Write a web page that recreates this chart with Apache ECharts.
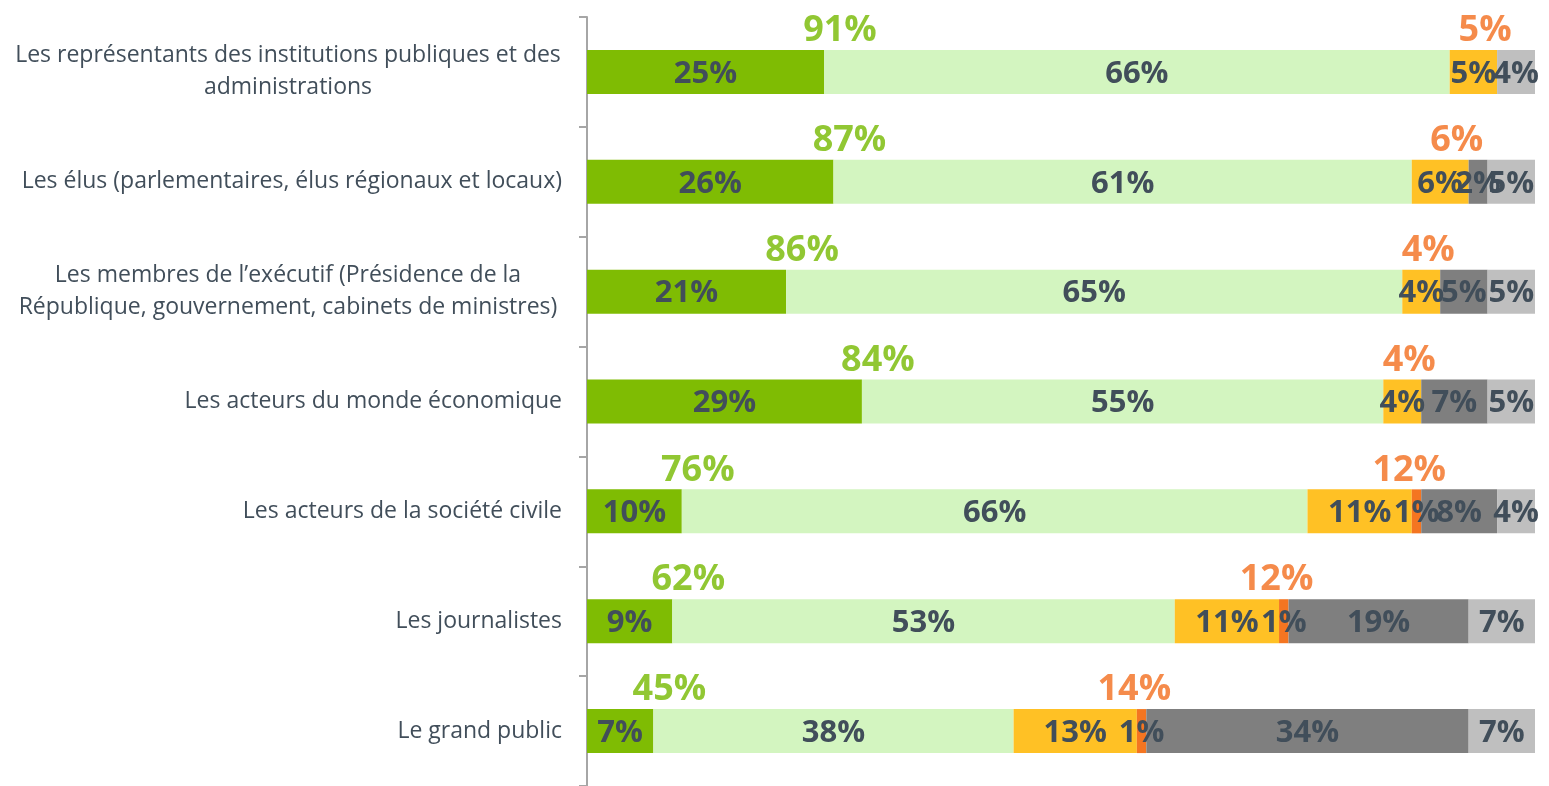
<!DOCTYPE html>
<html>
<head>
<meta charset="utf-8">
<script src="https://cdn.jsdelivr.net/npm/echarts@6/dist/echarts.min.js"></script>
<style>
  html, body { margin: 0; padding: 0; background: #fff; }
  #chart { width: 1549px; height: 786px; }
</style>
</head>
<body>
<div id="chart"></div>
<script>
// categories, top to bottom
var categories = [
  "Les représentants des institutions publiques et des\nadministrations",
  "Les élus (parlementaires, élus régionaux et locaux)",
  "Les membres de l\u2019exécutif (Présidence de la\nRépublique, gouvernement, cabinets de ministres)",
  "Les acteurs du monde économique",
  "Les acteurs de la société civile",
  "Les journalistes",
  "Le grand public"
];

// segment values (%)
var tresBonne = [25, 26, 21, 29, 10, 9, 7];
var plutotBonne = [66, 61, 65, 55, 66, 53, 38];
var plutotMauvaise = [5, 6, 4, 4, 11, 11, 13];
var tresMauvaise = [0, 0, 0, 0, 1, 1, 1];
var nspp = [0, 2, 5, 7, 8, 19, 34];
var nsp = [4, 5, 5, 5, 4, 7, 7];

// totals shown above the bars
var totalBonne = [91, 87, 86, 84, 76, 62, 45];
var totalMauvaise = [5, 6, 4, 4, 12, 12, 14];

var labelColor = "#414e5a";
var font = "'Open Sans', 'DejaVu Sans', sans-serif";

function barSerie(name, data, color) {
  return {
    name: name,
    type: "bar",
    stack: "total",
    barWidth: 44,
    data: data,
    itemStyle: { color: color },
    label: {
      show: true,
      position: "inside",
      offset: [0, 2],
      color: labelColor,
      fontFamily: font,
      fontWeight: "bold",
      fontSize: 31,
      formatter: function (p) {
        return p.value > 0 ? p.value + "%" : "";
      }
    }
  };
}

var myChart = echarts.init(document.getElementById("chart"));

var option = {
  animation: false,
  grid: {
    left: 587,
    right: 14,
    top: 17,
    bottom: 0
  },
  xAxis: {
    type: "value",
    min: 0,
    max: 100,
    show: false
  },
  yAxis: {
    type: "category",
    inverse: true,
    data: categories,
    axisLine: {
      lineStyle: { color: "#a6a6a6", width: 2 }
    },
    axisTick: {
      show: true,
      length: 8,
      lineStyle: { color: "#a6a6a6", width: 2 }
    },
    axisLabel: {
      margin: 25,
      color: labelColor,
      fontFamily: font,
      fontSize: 23,
      lineHeight: 32,
      formatter: function (v) {
        // two-line labels are centred as a block
        if (v.indexOf("\n") >= 0) return "{c|" + v + "}";
        return v;
      },
      rich: {
        c: {
          width: 548,
          align: "center",
          color: labelColor,
          fontFamily: font,
          fontSize: 23,
          lineHeight: 32
        }
      }
    }
  },
  series: [
    barSerie("Très bonne", tresBonne, "#7fbc03"),
    barSerie("Plutôt bonne", plutotBonne, "#d3f5c0"),
    barSerie("Plutôt mauvaise", plutotMauvaise, "#ffc125"),
    barSerie("Très mauvaise", tresMauvaise, "#f47521"),
    barSerie("Ne se prononce pas", nspp, "#7f7f7f"),
    barSerie("NSP", nsp, "#bfbfbf"),
    {
      // total "bonne" above the end of the dark green segment
      type: "scatter",
      symbolSize: 0,
      silent: true,
      data: totalBonne.map(function (t, i) {
        return [tresBonne[i], i, t];
      }),
      label: {
        show: true,
        position: "inside",
        offset: [16, -41],
        color: "#76b900",
        fontFamily: font,
        fontWeight: "bold",
        fontSize: 36,
        formatter: function (p) {
          return p.value[2] + "%";
        }
      }
    },
    {
      // total "mauvaise" above the yellow/orange part
      type: "scatter",
      symbolSize: 0,
      silent: true,
      data: totalMauvaise.map(function (t, i) {
        return [tresBonne[i] + plutotBonne[i] + plutotMauvaise[i] + tresMauvaise[i], i, t];
      }),
      label: {
        show: true,
        position: "inside",
        offset: [-12, -41],
        color: "#f26e1e",
        fontFamily: font,
        fontWeight: "bold",
        fontSize: 36,
        formatter: function (p) {
          return p.value[2] + "%";
        }
      }
    }
  ]
};

myChart.setOption(option);
</script>
</body>
</html>
